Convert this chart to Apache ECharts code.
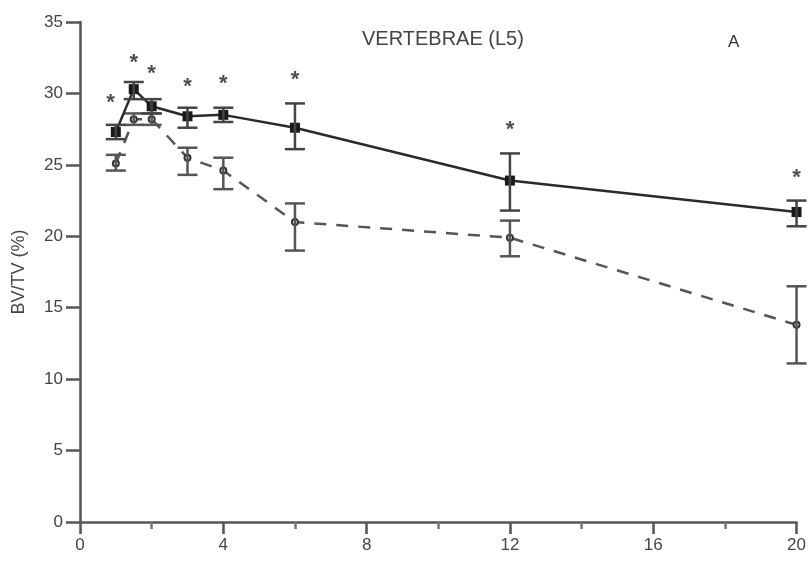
<!DOCTYPE html>
<html>
<head>
<meta charset="utf-8">
<script src="https://cdn.jsdelivr.net/npm/echarts@6/dist/echarts.min.js"></script>
<style>html,body{margin:0;padding:0;background:#fff;}#c{width:809px;height:564px;}</style>
</head>
<body>
<div id="c"></div>
<script>
const xVals = [1, 1.5, 2, 3, 4, 6, 12, 20];
const solidMean = [27.3, 30.3, 29.1, 28.4, 28.5, 27.6, 23.9, 21.7];
const solidLow  = [26.8, 29.6, 28.6, 27.6, 28.0, 26.1, 21.8, 20.7];
const solidHigh = [27.8, 30.8, 29.6, 29.0, 29.0, 29.3, 25.8, 22.5];
const dashMean = [25.1, 28.2, 28.2, 25.5, 24.6, 21.0, 19.9, 13.8];
const dashLow  = [24.6, 27.8, 27.8, 24.3, 23.3, 19.0, 18.6, 11.1];
const dashHigh = [25.7, 28.6, 28.6, 26.2, 25.5, 22.3, 21.1, 16.5];
const starX = [0.85, 1.5, 2.0, 3, 4, 6, 12, 20];
const starY = [29.7, 32.5, 31.7, 30.8, 31.0, 31.3, 27.8, 24.4];
const xTicks = [0, 4, 8, 12, 16, 20];
const yTicks = [0, 5, 10, 15, 20, 25, 30, 35];
const titleText = 'VERTEBRAE (L5)';
const panelText = 'A';
const yName = 'BV/TV (%)';

const pair = (xs, ys) => xs.map((x, i) => [x, ys[i]]);
const errData = (lo, hi) => xVals.map((x, i) => [x, lo[i], hi[i]]);

function errRender(color) {
  return function (params, api) {
    const x = api.value(0);
    const lo = api.coord([x, api.value(1)]);
    const hi = api.coord([x, api.value(2)]);
    const w = 10;
    const st = { stroke: color, lineWidth: 2.5 };
    return {
      type: 'group',
      children: [
        { type: 'line', shape: { x1: lo[0], y1: lo[1], x2: hi[0], y2: hi[1] }, style: st },
        { type: 'line', shape: { x1: lo[0] - w, y1: lo[1], x2: lo[0] + w, y2: lo[1] }, style: st },
        { type: 'line', shape: { x1: hi[0] - w, y1: hi[1], x2: hi[0] + w, y2: hi[1] }, style: st }
      ]
    };
  };
}

const chart = echarts.init(document.getElementById('c'), null, { renderer: 'canvas' });
chart.setOption({
  animation: false,
  backgroundColor: '#fff',
  textStyle: { fontFamily: 'Liberation Sans' },
  grid: { left: 80, right: 12, top: 22, bottom: 42, containLabel: false },
  graphic: [
    { type: 'text', left: 362, top: 29, style: { text: titleText, fontSize: 20, fontFamily: 'Liberation Sans', fill: '#444' } },
    { type: 'text', left: 728, top: 34, style: { text: panelText, fontSize: 17, fontFamily: 'Liberation Sans', fill: '#333' } }
  ],
  xAxis: {
    type: 'value', min: 0, max: 20, interval: 4,
    axisLine: { show: true, lineStyle: { color: '#555', width: 2.5 } },
    axisTick: { show: true, length: 12, lineStyle: { color: '#555', width: 2.5 } },
    minorTick: { show: true, splitNumber: 2, length: 7, lineStyle: { color: '#777', width: 2.5 } },
    splitLine: { show: false },
    axisLabel: { color: '#444', fontSize: 17, margin: 15,
      formatter: v => xTicks.includes(v) ? String(v) : '' }
  },
  yAxis: {
    type: 'value', min: 0, max: 35, interval: 5,
    name: yName, nameLocation: 'middle', nameGap: 52, nameRotate: 90,
    nameTextStyle: { color: '#444', fontSize: 18 },
    axisLine: { show: true, lineStyle: { color: '#555', width: 2.5 } },
    axisTick: { show: true, length: 14, lineStyle: { color: '#555', width: 2.5 } },
    splitLine: { show: false },
    axisLabel: { color: '#444', fontSize: 17, margin: 17,
      formatter: v => yTicks.includes(v) ? String(v) : '' }
  },
  series: [
    { type: 'line', data: pair(xVals, dashMean), z: 3,
      lineStyle: { color: '#555', width: 2.5, type: [12, 10] },
      symbol: 'emptyCircle', symbolSize: 6, showSymbol: true,
      itemStyle: { color: '#333', borderColor: '#333', borderWidth: 2 } },
    { type: 'custom', data: errData(dashLow, dashHigh), renderItem: errRender('#555'), z: 4 },
    { type: 'line', data: pair(xVals, solidMean), z: 5,
      lineStyle: { color: '#2a2a2a', width: 2.5 },
      symbol: 'rect', symbolSize: 10,
      itemStyle: { color: '#1a1a1a' } },
    { type: 'custom', data: errData(solidLow, solidHigh), renderItem: errRender('#444'), z: 6 },
    { type: 'scatter', data: pair(starX, starY), symbolSize: 1, z: 7,
      itemStyle: { color: 'rgba(0,0,0,0)' },
      label: { show: true, position: 'inside', formatter: '*', fontSize: 22, fontWeight: 'bold',
        color: '#222', offset: [0, 5] } }
  ]
});
</script>
</body>
</html>
